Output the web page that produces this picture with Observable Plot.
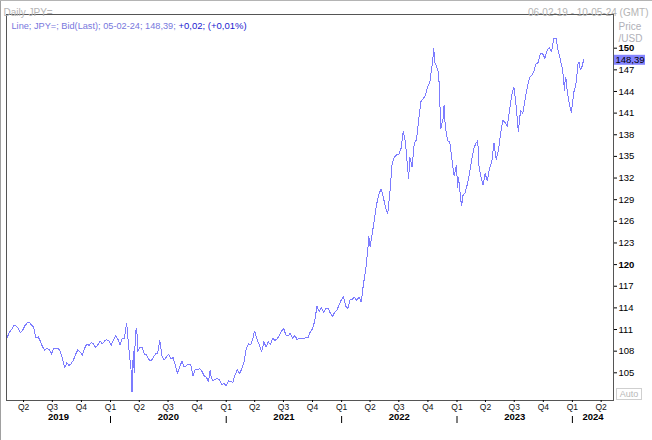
<!DOCTYPE html>
<html><head><meta charset="utf-8">
<script src="https://cdn.jsdelivr.net/npm/d3@7"></script>
<script src="https://cdn.jsdelivr.net/npm/@observablehq/plot@0.6"></script>
<style>
html,body{margin:0;padding:0;background:#fff;}
#chart{position:relative;width:652px;height:440px;overflow:hidden;}
#chart svg{display:block;}
#chart svg g[aria-label="line"] path{shape-rendering:crispEdges;}
.edgeL{position:absolute;left:0;top:0;width:1px;height:440px;background:#a0a0a0;}
.edgeT{position:absolute;left:0;top:0;width:652px;height:1px;background:#b4b4b4;}
.auto{position:absolute;left:616px;top:388px;width:24px;height:10px;border:1px solid #cfcfcf;font:9px 'Liberation Sans',Arial,sans-serif;color:#b8b8b8;line-height:10px;text-align:center;}
</style></head>
<body><div id="chart"><div class="edgeL"></div><div class="edgeT"></div></div>
<script>
// ---- data (weekly Friday closes) ----
const start2019 = "2019-02-08";
const close2019 = [109.9,110.6,111.0,111.6,111.5,111.2,110.6,110.9,111.5,111.9,
  112.0,111.6,111.3,109.8,110.0,109.4,108.6,108.1,108.4,108.2,
  107.6,108.4,108.3,108.4,108.0,107.0,105.7,106.4,106.0,106.3,
  106.8,107.6,108.2,107.9,107.4,108.4,109.0,108.8,109.2,109.0,
  108.5,108.9,109.4,109.0,109.4,109.6,109.4];
const start2020 = "2020-01-03";
const close2020 = [108.8,109.5,110.1,109.7,108.9,109.8,109.8,111.9,108.4,105.4,
  107.9,110.8,107.9,108.5,108.5,107.6,107.5,106.9,106.6,107.1,
  107.6,107.7,109.5,107.3,106.8,107.2,107.6,106.9,107.1,106.1,
  104.9,105.9,106.6,105.8,106.0,106.2,106.1,104.6,105.5,105.4,
  105.6,105.2,104.6,104.4,103.8,104.6,103.9,104.1,104.2,104.0,
  103.4,103.5];
const start2021 = "2021-01-01";
const close2021 = [103.2,103.9,103.8,103.7,104.7,105.4,104.9,105.5,106.4,108.3,
  109.0,108.9,109.6,110.6,109.6,108.8,107.9,109.3,108.6,109.3,
  108.9,109.8,109.5,109.7,110.2,110.8,111.1,110.2,110.1,110.5,
  109.7,110.2,109.6,109.8,109.8,109.7,109.9,109.9,110.7,111.1,
  112.2,114.2,113.5,114.0,113.4,113.9,114.0,113.3,112.8,113.4,
  113.7,114.4];
const start2022 = "2021-12-31";
const close2022 = [115.1,115.6,114.2,113.9,115.2,115.2,115.5,115.0,115.5,114.8,
  117.3,119.2,122.1,122.5,124.3,126.4,128.4,129.8,130.5,129.3,
  127.9,127.1,130.2,134.1,134.9,135.2,135.3,136.1,138.5,136.9,
  133.3,134.9,133.5,136.9,137.3,140.2,142.6,143.0,143.4,144.7,
  145.3,147.6,148.2,147.5,146.6,138.8,140.3,139.1,137.2,137.0,
  134.5,132.3,133.8];
const start2023 = "2023-01-06";
const close2023 = [132.1,128.9,129.6,130.0,131.2,132.8,134.7,136.2,136.9,134.0,
  132.3,131.0,132.6,131.6,133.4,134.3,136.8,134.6,135.8,138.2,
  140.0,139.7,139.2,141.4,143.5,144.6,142.0,138.4,141.4,141.0,
  142.8,144.5,145.9,146.2,146.8,147.8,148.0,149.3,149.2,148.6,
  149.7,150.1,149.5,151.3,151.4,149.6,148.4,147.0,145.2,144.3,
  142.3,141.1];
const start2024 = "2024-01-05";
const close2024 = [143.8,145.0,147.9,147.0,147.6];
// single days with notable moves
const extraDates = ["2020-03-09","2020-03-16","2020-03-24","2020-11-11","2021-03-31","2022-03-28",
  "2022-08-01","2022-10-20","2022-11-21","2023-01-03","2023-01-16","2023-03-08",
  "2023-12-07","2023-12-11","2024-01-22","2024-02-05"];
const extraValues = [102.3,105.0,111.2,105.3,110.7,123.9,131.9,150.0,142.1,130.7,128.2,137.2,
  144.2,146.0,148.0,148.39];

const lastValue = 148.39;
const lastLabel = "148,39";
const legendMain = "Line; JPY=; Bid(Last); 05-02-24; 148,39;";
const legendChange = "+0,02; (+0,01%)";
const chartTitle = "Daily JPY=";
const rangeLabel = "06-02-19 - 10-05-24 (GMT)";
const unitLabel = ["Price", "/USD"];
const domainStart = "2019-02-06", domainEnd = "2024-05-10";
const yDomain = [101.16, 154.67];
const yTicks = [105,108,111,114,117,123,126,129,132,135,138,141,144,147];
const yTicksBold = [120,150];
const quarterDates = ["2019-04-01","2019-07-01","2019-10-01","2020-01-01","2020-04-01","2020-07-01","2020-10-01",
  "2021-01-01","2021-04-01","2021-07-01","2021-10-01","2022-01-01","2022-04-01","2022-07-01","2022-10-01",
  "2023-01-01","2023-04-01","2023-07-01","2023-10-01","2024-01-01","2024-04-01"];
const quarterLabels = ["Q2","Q3","Q4","Q1","Q2","Q3","Q4","Q1","Q2","Q3","Q4","Q1","Q2","Q3","Q4",
  "Q1","Q2","Q3","Q4","Q1","Q2"];
const yearLabels = ["2019","2020","2021","2022","2023","2024"];

// ---- build ----
const series = [];
function addWeeks(start, vals) {
  const s = new Date(start);
  vals.forEach((v, i) => series.push({date: d3.utcDay.offset(s, 7 * i), value: v}));
}
addWeeks(start2019, close2019); addWeeks(start2020, close2020); addWeeks(start2021, close2021);
addWeeks(start2022, close2022); addWeeks(start2023, close2023); addWeeks(start2024, close2024);
extraDates.forEach((d, i) => series.push({date: new Date(d), value: extraValues[i]}));
series.sort((a, b) => a.date - b.date);

const x0 = new Date(domainStart), x1 = new Date(domainEnd);
const qDates = quarterDates.map(d => new Date(d));
const qMap = new Map(qDates.map((d, i) => [+d, quarterLabels[i]]));
const yearStarts = qDates.filter((d, i) => quarterLabels[i] === "Q1");
const years = yearLabels.map(y => {
  const a = new Date(y + "-01-01"), b = new Date((+y + 1) + "-01-01");
  const lo = a < x0 ? x0 : a, hi = b > x1 ? x1 : b;
  return {label: y, mid: new Date((+lo + +hi) / 2)};
});

const font = "'Liberation Sans', Arial, sans-serif";
const chart = Plot.plot({
  width: 652, height: 440,
  marginLeft: 6, marginRight: 39, marginTop: 14, marginBottom: 40,
  style: {fontFamily: font, fontSize: "9px", background: "transparent"},
  x: {type: "utc", domain: [x0, x1], axis: null},
  y: {domain: yDomain, axis: null},
  marks: [
    Plot.line(series, {x: "date", y: "value", stroke: "#7c7cff", strokeWidth: 1}),
    Plot.frame({stroke: "#555"}),
    Plot.axisY({anchor: "right", ticks: yTicks, tickSize: 3, tickPadding: 2, label: null, fontSize: 9.5, tickFormat: d => String(d)}),
    Plot.axisY({anchor: "right", ticks: yTicksBold, tickSize: 3, tickPadding: 2, label: null, fontSize: 9.5, fontWeight: "bold", tickFormat: d => String(d)}),
    Plot.ruleY([lastValue], {y: d => d, insetLeft: 608, insetRight: -32, stroke: "#8484ff", strokeWidth: 10}),
    Plot.text([lastLabel], {y: () => lastValue, text: d => d, frameAnchor: "right", textAnchor: "start", dx: 2, fontSize: 9.5, fill: "#000"}),
    Plot.axisX({ticks: qDates, tickFormat: d => qMap.get(+d), tickSize: 2, tickPadding: 1, label: null, fontSize: 8.5, fill: "#111"}),
    Plot.ruleX(yearStarts, {x: d => d, insetTop: 402, insetBottom: -23, stroke: "#000"}),
    Plot.text(years, {x: "mid", text: "label", frameAnchor: "bottom", dy: 19, fontWeight: "bold", fontSize: 9.5, fill: "#000"}),
    Plot.text([legendMain], {text: d => d, frameAnchor: "top-left", dx: 5, dy: 8, textAnchor: "start", fill: "#7777dd", fontSize: 9.2}),
    Plot.text([legendChange], {text: d => d, frameAnchor: "top-left", dx: 172, dy: 8, textAnchor: "start", fill: "#1a1ad0", fontSize: 9.5}),
    Plot.text([chartTitle], {text: d => d, frameAnchor: "top-left", dx: -3, dy: -6, textAnchor: "start", fill: "#b4b4b4", fontSize: 10}),
    Plot.text([rangeLabel], {text: d => d, frameAnchor: "top-right", dx: 35, dy: -6, textAnchor: "end", fill: "#b4b4b4", fontSize: 10}),
    Plot.text([unitLabel[0]], {text: d => d, frameAnchor: "top-right", dx: 5, dy: 8, textAnchor: "start", fill: "#b0b0b8", fontSize: 10}),
    Plot.text([unitLabel[1]], {text: d => d, frameAnchor: "top-right", dx: 5, dy: 20, textAnchor: "start", fill: "#b0b0b8", fontSize: 10})
  ]
});
const host = document.getElementById("chart");
host.insertBefore(chart, host.firstChild);
const auto = document.createElement("div");
auto.className = "auto"; auto.textContent = "Auto";
host.appendChild(auto);
</script></body></html>
